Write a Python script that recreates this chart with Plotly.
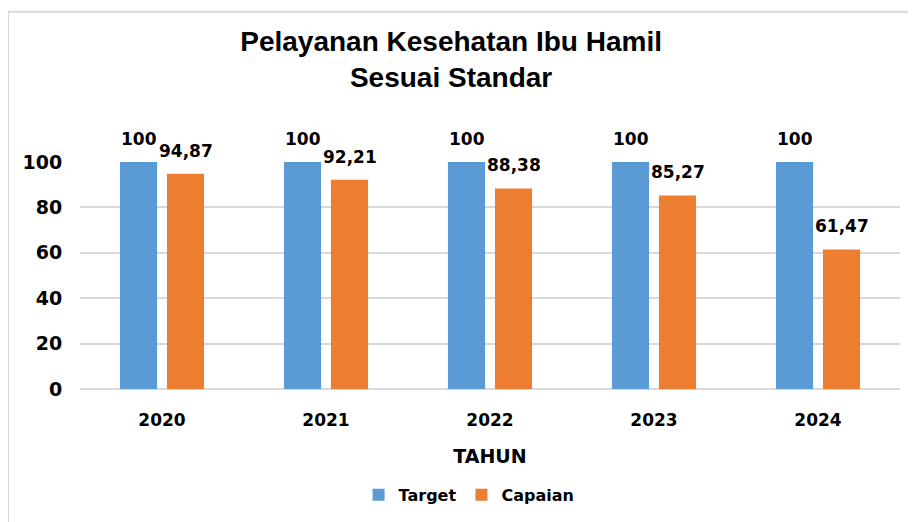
import plotly.graph_objects as go

years = ["2020", "2021", "2022", "2023", "2024"]
target = [100, 100, 100, 100, 100]
capaian = [94.87, 92.21, 88.38, 85.27, 61.47]
y_ticks = [0, 20, 40, 60, 80, 100]

BLUE = "#5B9BD5"
ORANGE = "#ED7D31"
FONT = "DejaVu Sans"

W, H = 908, 514
L, T, PW, PH = 72, 154, 820, 228
R = W - L - PW
B = H - T - PH


def fmt(v):
    s = f"{v:.2f}".rstrip("0").rstrip(".")
    return s.replace(".", ",")


fig = go.Figure()
fig.add_trace(go.Bar(name="Target", x=years, y=target, marker_color=BLUE,
                     marker_line_width=0, cliponaxis=False))
fig.add_trace(go.Bar(name="Capaian", x=years, y=capaian, marker_color=ORANGE,
                     marker_line_width=0, cliponaxis=False))

annotations = []
for i, yr in enumerate(years):
    for val, shift in ((target[i], -23.5), (capaian[i], 23.5)):
        annotations.append(dict(
            x=i, y=val, xref="x", yref="y", text=fmt(val), showarrow=False,
            xshift=shift, yshift=23, yanchor="middle", xanchor="center",
            font=dict(family=FONT, size=17, color="#000000", weight="bold")))

fig.update_layout(
    width=W, height=H,
    margin=dict(l=L, r=R, t=T, b=B),
    paper_bgcolor="white", plot_bgcolor="white",
    barmode="group", bargap=0.427, bargroupgap=0.21,
    title=dict(
        text="Pelayanan Kesehatan Ibu Hamil<br>Sesuai Standar",
        x=0.488, xanchor="center", y=0.9167, yanchor="middle",
        font=dict(family="Liberation Sans Narrow, Liberation Sans, sans-serif",
                  size=28, color="#000000", weight="bold")),
    xaxis=dict(
        type="category", automargin=False, range=[-0.5, 4.5],
        title=dict(text="TAHUN", standoff=20,
                   font=dict(family=FONT, size=19, color="#000000", weight="bold")),
        tickfont=dict(family=FONT, size=17, color="#000000", weight="bold"),
        showline=False, ticks="outside", ticklen=16, tickcolor="rgba(0,0,0,0)"),
    yaxis=dict(
        range=[0, 100], tickvals=y_ticks, automargin=False,
        tickfont=dict(family=FONT, size=19, color="#000000", weight="bold"),
        showgrid=True, gridcolor="#D9D9D9", gridwidth=1.5,
        zeroline=True, zerolinecolor="#D9D9D9", zerolinewidth=1.5,
        showline=False, ticks="outside", ticklen=13, tickcolor="rgba(0,0,0,0)"),
    legend=dict(orientation="h", x=0.4745, xanchor="center", y=-0.46,
                yanchor="middle",
                font=dict(family=FONT, size=16, color="#000000", weight="bold")),
    annotations=annotations,
    shapes=[
        dict(type="line", xref="paper", yref="paper",
             x0=(0 - L) / PW, x1=(0 - L) / PW, y0=(PH + T - 3) / PH, y1=-B / PH - 0.2,
             line=dict(color="#D9D9D9", width=2)),
        dict(type="line", xref="paper", yref="paper",
             x0=(0 - L) / PW, x1=(W + 20 - L) / PW, y0=(PH + T - 3) / PH, y1=(PH + T - 3) / PH,
             line=dict(color="#D9D9D9", width=2)),
    ],
)

fig.write_html("out.html")
